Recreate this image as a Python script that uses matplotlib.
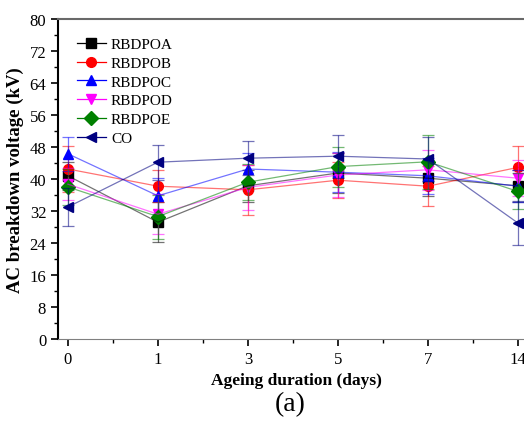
import numpy as np
import matplotlib
matplotlib.use("Agg")
import matplotlib.pyplot as plt
from matplotlib.lines import Line2D
from matplotlib.ticker import MultipleLocator

plt.rcParams['font.family'] = ['Liberation Serif', 'DejaVu Serif']

days = ['0', '1', '3', '5', '7', '14']
names = ['RBDPOA', 'RBDPOB', 'RBDPOC', 'RBDPOD', 'RBDPOE', 'CO']
colors = ['black', 'red', 'blue', 'magenta', 'green', 'navy']
markers = ['s', 'o', '^', 'v', 'D', '<']

rbdpoa = [40.8, 29.2, 38.3, 41.5, 40.2, 38.3]
rbdpob = [42.5, 38.2, 37.3, 39.7, 38.2, 42.9]
rbdpoc = [46.3, 35.8, 42.5, 41.7, 40.8, 38.2]
rbdpod = [38.7, 31.2, 37.9, 41.0, 42.3, 40.2]
rbdpoe = [38.0, 30.6, 39.2, 43.1, 44.3, 36.9]
co = [33.0, 44.2, 45.2, 45.7, 45.0, 29.0]

err_a = [3.5, 5.0, 4.0, 5.0, 4.5, 4.0]
err_b = [5.8, 4.0, 6.3, 4.5, 5.0, 5.3]
err_c = [4.2, 4.5, 4.0, 5.0, 4.5, 4.0]
err_d = [4.0, 5.0, 5.6, 5.5, 5.0, 4.5]
err_e = [4.5, 5.5, 4.5, 5.0, 6.7, 4.5]
err_co = [4.7, 4.4, 4.3, 5.4, 5.5, 5.5]

series = [rbdpoa, rbdpob, rbdpoc, rbdpod, rbdpoe, co]
errors = [err_a, err_b, err_c, err_d, err_e, err_co]

fig = plt.figure(figsize=(5.24, 4.31), dpi=100)
ax = fig.add_axes([58 / 524, 1 - 340 / 431, (535 - 58) / 524, 320 / 431])

x = np.arange(len(days))
handles = []
for vals, errs, name, c, m in zip(series, errors, names, colors, markers):
    ax.errorbar(x, vals, yerr=errs, color=c, fmt='-', linewidth=0.9,
                elinewidth=0.9, capsize=4, capthick=0.9, alpha=0.55)
    ax.plot(x, vals, linestyle='none', marker=m, markersize=7, color=c)
    handles.append(Line2D([], [], color=c, linewidth=0.9, marker=m,
                          markersize=7, label=name))

ax.set_xlim(-0.11, 5.19)
ax.set_ylim(0, 80)
ax.set_xticks(x)
ax.set_xticklabels(days)
ax.xaxis.set_minor_locator(MultipleLocator(0.5))
ax.yaxis.set_major_locator(MultipleLocator(8))
ax.yaxis.set_minor_locator(MultipleLocator(4))
ax.tick_params(which='major', direction='out', length=5, width=1.2, labelsize=12)
ax.tick_params(which='minor', direction='out', length=3, width=1)

ax.spines['left'].set_linewidth(1.5)
ax.spines['bottom'].set_color('gray')
ax.spines['top'].set_color('dimgray')
ax.spines['top'].set_linewidth(1.5)
ax.spines['right'].set_visible(False)

ax.set_ylabel('AC breakdown voltage (kV)', fontsize=13.5, fontweight='bold')
ax.set_xlabel('Ageing duration (days)', fontsize=12.5, fontweight='bold', labelpad=4)

ax.legend(handles=handles, loc='upper left', bbox_to_anchor=(0.01, 0.985),
          frameon=False, fontsize=11, handlelength=1.9, labelspacing=0.33,
          handletextpad=0.35)

fig.text(290 / 524, 1 - 405 / 431, '(a)', fontsize=20, ha='center', va='center')

fig.savefig('out.png', dpi=100)
